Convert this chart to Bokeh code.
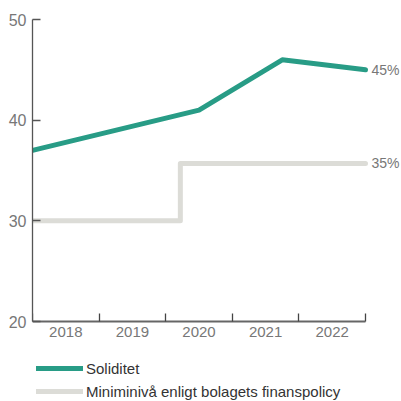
from bokeh.plotting import figure
from bokeh.models import FixedTicker, Legend, LegendItem, Label
from bokeh.embed import file_html
from bokeh.resources import INLINE

# Data
years = [2018, 2019, 2020, 2021, 2022]
year_labels = ["2018", "2019", "2020", "2021", "2022"]
sol_x = [2017.5, 2020.0, 2021.25, 2022.5]
sol_y = [37.0, 41.0, 46.0, 45.0]
min_x = [2017.5, 2019.72, 2019.72, 2022.5]
min_y = [30.0, 30.0, 35.7, 35.7]
end_labels = ["45%", "35%"]
y_ticks = [20, 30, 40, 50]
series_names = ["Soliditet", "Miniminivå enligt bolagets finanspolicy"]

TEAL = "#289c86"
GREY = "#dcdcd7"
FONT = "Liberation Sans"
TICK_COLOR = "#777777"

# Frame: left 32px, top 19px, spans to the right and bottom edges so that
# the end labels and the legend sit inside it. The axes are bounded.
X0, X1 = 2017.5, 2022.5
Y0, Y1 = 20, 50
px_per_x = 333 / (X1 - X0)
px_per_y = 302 / (Y1 - Y0)
x_end = X1 + 36 / px_per_x
y_start = Y0 - 80 / px_per_y

p = figure(width=401, height=401, output_backend="svg", toolbar_location=None,
           x_range=(X0, x_end), y_range=(y_start, Y1),
           min_border_left=32, min_border_right=0, min_border_top=19, min_border_bottom=0)
p.outline_line_color = None
p.xgrid.visible = False
p.ygrid.visible = False
p.background_fill_color = "white"
p.border_fill_color = "white"

r_min = p.line(min_x, min_y, line_color=GREY, line_width=5, line_cap="round", line_join="round")
r_sol = p.line(sol_x, sol_y, line_color=TEAL, line_width=5, line_cap="round", line_join="round")

# y axis
ya = p.yaxis[0]
ya.ticker = FixedTicker(ticks=y_ticks, minor_ticks=[])
ya.bounds = (Y0, Y1)
ya.axis_line_color = "#555555"
ya.axis_line_width = 1.3
ya.major_tick_in = 8
ya.major_tick_out = 0
ya.major_tick_line_color = "#555555"
ya.major_tick_line_width = 1.3
ya.minor_tick_line_color = None
ya.major_label_standoff = 6
ya.major_label_text_font = FONT
ya.major_label_text_font_size = "16px"
ya.major_label_text_color = TICK_COLOR

# x axis
xa = p.xaxis[0]
xa.fixed_location = Y0
xa.bounds = (X0, X1)
xa.ticker = FixedTicker(ticks=years, minor_ticks=[y + 0.5 for y in [2017] + years])
xa.major_label_overrides = {y: l for y, l in zip(years, year_labels)}
xa.axis_line_color = "#666666"
xa.axis_line_width = 2
xa.major_tick_in = 0
xa.major_tick_out = 0
xa.minor_tick_in = 8
xa.minor_tick_out = 0
xa.minor_tick_line_color = "#444444"
xa.minor_tick_line_width = 1.3
xa.major_label_standoff = 5
xa.major_label_text_font = FONT
xa.major_label_text_font_size = "15px"
xa.major_label_text_color = TICK_COLOR

# end labels
for yv, txt in zip([sol_y[-1], min_y[-1]], end_labels):
    p.add_layout(Label(x=sol_x[-1], y=yv, text=txt, x_offset=6, text_baseline="middle",
                       text_font=FONT, text_font_size="14px", text_color=TICK_COLOR))

legend = Legend(items=[LegendItem(label=series_names[0], renderers=[r_sol]),
                       LegendItem(label=series_names[1], renderers=[r_min])],
                location=(4, 1), orientation="vertical",
                glyph_width=47, glyph_height=18, label_height=18,
                label_standoff=3, spacing=5, padding=0, margin=0,
                label_text_font=FONT, label_text_font_size="15px", label_text_color="#333333",
                border_line_color=None, background_fill_alpha=0)
p.add_layout(legend, "center")

open("out.html", "w").write(file_html(p, INLINE))
